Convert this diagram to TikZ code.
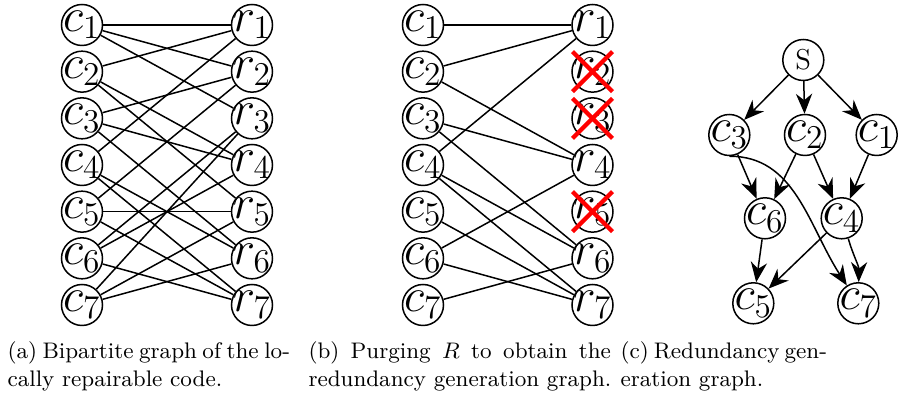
\RequirePackage{fix-cm}
\documentclass[tikz,border=0pt]{standalone}
\usetikzlibrary{arrows.meta}
\begin{document}
\begin{tikzpicture}[x=0.4pt,y=-0.4pt,
  vtx/.style={draw, circle, line width=0.6pt, minimum size=16.4pt, inner sep=-1.6pt, font=\fontsize{19}{22}\selectfont},
  svtx/.style={draw, circle, line width=0.6pt, minimum size=16.4pt, inner sep=0pt, font=\fontsize{11.5}{13}\selectfont},
  edge/.style={line width=0.6pt},
  arr/.style={line width=0.6pt, -{Stealth[length=8pt,width=6.5pt,inset=2.6pt]}},
  cross/.style={draw=red, line width=1.7pt},
  captxt/.style={font=\small, anchor=base west, inner sep=0pt}]
\useasboundingbox (0,0) rectangle (916,398);
% ---------- panel (a)
\foreach \i in {1,...,7}{
  \node[vtx] (ac\i) at (82,{25+46.667*(\i-1)}) {$c_{\i}$};
  \node[vtx] (ar\i) at (252,{25+46.667*(\i-1)}) {$r_{\i}$};
}
\foreach \r/\c in {1/1,1/2,1/4,2/1,2/3,2/5,3/1,3/6,3/7,4/2,4/3,4/6,5/2,5/5,5/7,6/3,6/4,6/7,7/4,7/5,7/6}
  \draw[edge] (ac\c) -- (ar\r);
% ---------- panel (b)
\foreach \i in {1,...,7}{
  \node[vtx] (bc\i) at (423,{25+46.667*(\i-1)}) {$c_{\i}$};
  \node[vtx] (br\i) at (592.5,{25+46.667*(\i-1)}) {$r_{\i}$};
}
\foreach \r/\c in {1/1,1/2,1/4,4/2,4/3,4/6,6/3,6/4,6/7,7/4,7/5,7/6}
  \draw[edge] (bc\c) -- (br\r);
\foreach \i in {2,3,5}{
  \draw[cross] (br\i) +(-20,-20) -- +(20,20);
  \draw[cross] (br\i) +(-20,20) -- +(20,-20);
}
% ---------- panel (c)
\node[svtx] (S) at (803.3,60) {S};
\node[vtx] (c3) at (729.3,135) {$c_3$};
\node[vtx] (c2) at (805,135) {$c_2$};
\node[vtx] (c1) at (876.7,135) {$c_1$};
\node[vtx] (c6) at (765,218.3) {$c_6$};
\node[vtx] (c4) at (841.7,218.3) {$c_4$};
\node[vtx] (c5) at (753.3,303.3) {$c_5$};
\node[vtx] (c7) at (858.3,303.3) {$c_7$};
\draw[arr] (S) -- (c3);
\draw[arr] (S) -- (c2);
\draw[arr] (S) -- (c1);
\draw[arr] (c3) -- (c6);
\draw[arr] (c2) -- (c6);
\draw[arr] (c2) -- (c4);
\draw[arr] (c1) -- (c4);
\draw[arr] (c6) -- (c5);
\draw[arr] (c4) -- (c5);
\draw[arr] (c4.-72) .. controls (853,255) and (859,266) .. (c7);
\draw[arr] (c3.south) .. controls (795,156) and (808,225) .. (c7);
% ---------- captions
\node[captxt] (capa1) at (7,359) {\makebox[113pt][s]{(a) Bipartite graph of the lo-}};
\node[captxt] (capa2) at (7,387) {cally repairable code.};
\node[captxt] (capb1) at (308,359) {\makebox[121pt][s]{(b) Purging $R$ to obtain the}};
\node[captxt] (capb2) at (308,387) {redundancy generation graph.};
\node[captxt] (capc1) at (620,359) {\makebox[75pt][s]{(c) Redundancy gen-}};
\node[captxt] (capc2) at (620,387) {eration graph.};
\end{tikzpicture}
\end{document}
